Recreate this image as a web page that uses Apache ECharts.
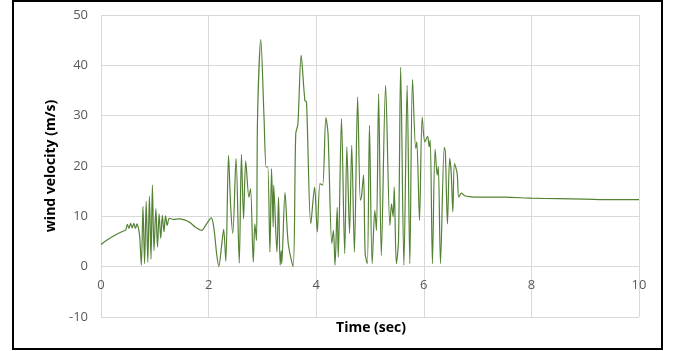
<!DOCTYPE html>
<html>
<head>
<meta charset="utf-8">
<script src="https://cdn.jsdelivr.net/npm/echarts@6/dist/echarts.min.js"></script>
<style>
  html, body { margin: 0; padding: 0; background: #fff; }
  #main { width: 673px; height: 351px; }
</style>
</head>
<body>
<div id="main"></div>
<script>
// time samples (sec)
const timeSec = [
  0.00, 0.10, 0.20, 0.30, 0.40, 0.46, 0.49, 0.52, 0.55, 0.58, 0.61, 0.64, 0.67, 0.70, 0.72,
  0.75, 0.78, 0.81, 0.84, 0.87, 0.90, 0.93, 0.955, 0.985, 1.02, 1.05, 1.08, 1.11, 1.14, 1.17,
  1.20, 1.23, 1.27, 1.35, 1.45, 1.55, 1.65, 1.75, 1.87, 1.95, 2.05, 2.10, 2.15, 2.19, 2.24,
  2.28, 2.32, 2.37, 2.41, 2.45, 2.51, 2.57, 2.61, 2.65, 2.69, 2.75, 2.78, 2.83, 2.86, 2.89,
  2.91, 2.97, 3.03, 3.07, 3.10, 3.14, 3.17, 3.20, 3.21, 3.27, 3.30, 3.33, 3.35, 3.36, 3.42,
  3.48, 3.57, 3.62, 3.66, 3.72, 3.79, 3.82, 3.90, 3.97, 4.02, 4.07, 4.12, 4.18, 4.22, 4.29,
  4.32, 4.35, 4.39, 4.41, 4.47, 4.53, 4.57, 4.62, 4.66, 4.71, 4.77, 4.82, 4.84, 4.88, 4.91,
  4.95, 4.99, 5.04, 5.09, 5.12, 5.16, 5.21, 5.29, 5.37, 5.40, 5.43, 5.45, 5.49, 5.53, 5.57,
  5.63, 5.69, 5.74, 5.79, 5.85, 5.87, 5.92, 5.97, 6.02, 6.07, 6.10, 6.12, 6.16, 6.21, 6.25,
  6.27, 6.31, 6.38, 6.40, 6.44, 6.48, 6.51, 6.54, 6.57, 6.62, 6.65, 6.70, 6.76, 6.85, 7.00,
  7.50, 8.00, 8.50, 9.00, 9.50, 10.00
];
// wind velocity (m/s)
const windVel = [
  4.4, 5.2, 5.9, 6.5, 7.0, 7.3, 8.4, 7.6, 8.6, 7.7, 8.6, 7.6, 8.5, 7.4, 5.9,
  0.3, 12.0, 0.6, 13.0, 0.9, 14.0, 1.5, 16.2, 3.2, 11.5, 3.9, 10.5, 5.6, 10.2, 6.9,
  10.1, 8.2, 9.6, 9.4, 9.5, 9.3, 8.8, 7.9, 7.2, 8.3, 9.7, 7.5, 2.5, 0.0, 4.0,
  7.4, 1.1, 22.1, 12.0, 6.6, 21.5, 0.7, 22.3, 9.5, 21.0, 13.8, 15.5, 0.9, 8.5, 5.2,
  29.7, 45.1, 29.7, 19.8, 19.8, 2.9, 19.5, 7.9, 16.2, 2.9, 13.8, 0.3, 3.2, 0.6, 14.7,
  4.6, 0.0, 26.4, 28.4, 42.0, 33.0, 32.7, 8.5, 15.8, 6.9, 16.5, 16.2, 29.6, 26.4, 4.6,
  7.2, 0.3, 11.8, 1.9, 29.4, 2.6, 23.8, 6.6, 24.1, 2.9, 33.7, 13.2, 13.8, 18.2, 2.6,
  0.6, 28.1, 0.6, 11.2, 7.2, 34.4, 2.2, 36.0, 8.2, 12.5, 9.9, 15.8, 0.6, 5.2, 39.6,
  0.3, 36.0, 0.6, 37.2, 23.5, 24.8, 9.2, 29.7, 24.8, 25.9, 23.8, 25.1, 0.6, 23.3, 18.2,
  19.9, 0.6, 23.7, 22.8, 8.5, 21.5, 18.5, 10.9, 20.5, 18.5, 13.8, 14.6, 14.1, 13.9, 13.8,
  13.8, 13.6, 13.5, 13.4, 13.3, 13.3
];
const xTicks = [0, 2, 4, 6, 8, 10];
const yTicks = [-10, 0, 10, 20, 30, 40, 50];

let chart = echarts.init(document.getElementById("main"));

const gridColor = "#d9d9d9";
const labelFont = { color: "#595959", fontSize: 13, fontFamily: "Open Sans" };
const gridTop = 15, gridBottom = 34, chartH = 351;
// move the x axis (line + labels) up to y = 0, like Excel does
const zeroOffset = -((chartH - gridTop - gridBottom) * (0 - yTicks[0])) / (yTicks[yTicks.length - 1] - yTicks[0]);

let option = {
  animation: false,
  graphic: [
    {
      type: "rect",
      shape: { x: 13, y: 1, width: 649, height: 348 },
      style: { fill: "none", stroke: "#000", lineWidth: 2 },
    },
    // x axis title sits under the plot, not under the zero line
    {
      type: "text",
      x: 371,
      y: 328,
      style: {
        text: "Time (sec)",
        align: "center",
        verticalAlign: "middle",
        font: "bold 14px 'Open Sans'",
        fill: "#000",
      },
    },
  ],
  grid: { left: 101, right: 34, top: gridTop, bottom: gridBottom, outerBoundsMode: "none", containLabel: false },
  xAxis: {
    type: "value",
    min: xTicks[0],
    max: xTicks[xTicks.length - 1],
    interval: 2,
    offset: zeroOffset,
    axisLine: { onZero: false, lineStyle: { color: gridColor, width: 1 } },
    axisTick: { show: false },
    axisLabel: { ...labelFont, margin: 12 },
    splitLine: { lineStyle: { color: gridColor, width: 1 } },
  },
  yAxis: {
    type: "value",
    min: yTicks[0],
    max: yTicks[yTicks.length - 1],
    interval: 10,
    name: "wind velocity (m/s)",
    nameLocation: "middle",
    nameGap: 40,
    nameTextStyle: { fontWeight: "bold", fontSize: 14, color: "#000", fontFamily: "Open Sans" },
    axisLine: { show: false },
    axisTick: { show: false },
    axisLabel: { ...labelFont, margin: 13 },
    splitLine: { lineStyle: { color: gridColor, width: 1 } },
  },
  series: [
    {
      type: "line",
      data: timeSec.map((t, i) => [t, windVel[i]]),
      showSymbol: false,
      smooth: 0.3,
      lineStyle: { color: "#548235", width: 1.2 },
    },
  ],
};
chart.setOption(option);
</script>
</body>
</html>
